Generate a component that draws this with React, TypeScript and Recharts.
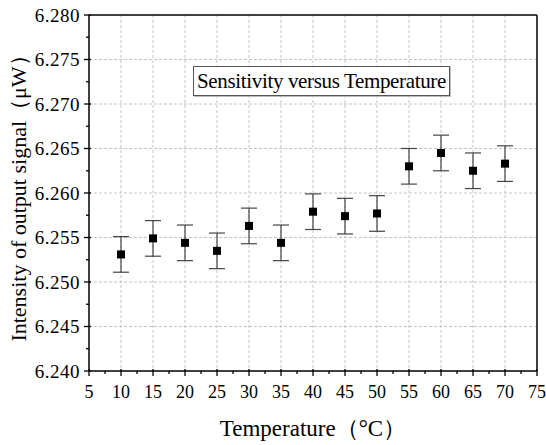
import React from "react";
import {
  ScatterChart,
  Scatter,
  XAxis,
  YAxis,
  CartesianGrid,
  ErrorBar,
  ReferenceLine,
} from "recharts";

const temperatures = [10, 15, 20, 25, 30, 35, 40, 45, 50, 55, 60, 65, 70];
const intensity = [
  6.2531, 6.2549, 6.2544, 6.2535, 6.2563, 6.2544, 6.2579, 6.2574, 6.2577,
  6.263, 6.2645, 6.2625, 6.2633,
];
const errors = [
  0.002, 0.002, 0.002, 0.002, 0.002, 0.002, 0.002, 0.002, 0.002, 0.002, 0.002,
  0.002, 0.002,
];

const xMajor = [5, 10, 15, 20, 25, 30, 35, 40, 45, 50, 55, 60, 65, 70, 75];
const xMinor = [7.5, 12.5, 17.5, 22.5, 27.5, 32.5, 37.5, 42.5, 47.5, 52.5, 57.5, 62.5, 67.5, 72.5];
const yMajor = [6.24, 6.245, 6.25, 6.255, 6.26, 6.265, 6.27, 6.275, 6.28];
const yMinor = [6.2425, 6.2475, 6.2525, 6.2575, 6.2625, 6.2675, 6.2725, 6.2775];

const data = temperatures.map((t, i) => ({
  temp: t,
  value: intensity[i],
  err: errors[i],
}));

const FONT = "'Liberation Serif', 'Times New Roman', serif";
const isMajorX = (v: number) => xMajor.includes(v);
const isMajorY = (v: number) => yMajor.some((m) => Math.abs(m - v) < 1e-6);

function XTick(props: any) {
  const { x, y, payload } = props;
  const major = isMajorX(payload.value);
  return (
    <g>
      <line
        x1={x}
        y1={major ? y - 2 : y}
        x2={x}
        y2={y + (major ? 5 : 3)}
        stroke="#000"
        strokeWidth={1.3}
      />
      {major && (
        <text x={x} y={y + 27} textAnchor="middle" fontFamily={FONT} fontSize={18} fill="#000">
          {payload.value}
        </text>
      )}
    </g>
  );
}

function YTick(props: any) {
  const { x, y, payload } = props;
  const major = isMajorY(payload.value);
  return (
    <g>
      <line
        x1={major ? x + 2 : x}
        y1={y}
        x2={x - (major ? 5 : 3)}
        y2={y}
        stroke="#000"
        strokeWidth={1.3}
      />
      {major && (
        <text
          x={x - 9}
          y={y + 6.5}
          textAnchor="end"
          fontFamily={FONT}
          fontSize={19}
          letterSpacing={0.5}
          fill="#000"
        >
          {payload.value.toFixed(3)}
        </text>
      )}
    </g>
  );
}

export default function App() {
  return (
    <div style={{ position: "absolute", left: 0, top: 0, width: 546, height: 445, background: "#fff" }}>
      <ScatterChart width={546} height={445} margin={{ top: 15, right: 9, bottom: 0, left: 0 }}>
        <CartesianGrid
          stroke="#c4c4c4"
          strokeDasharray="3 2"
          horizontalValues={yMajor.slice(1, -1)}
          verticalValues={xMajor.slice(1, -1)}
        />
        <XAxis
          type="number"
          dataKey="temp"
          domain={[5, 75]}
          ticks={[...xMajor, ...xMinor].sort((a, b) => a - b)}
          interval={0}
          height={74}
          tickSize={0}
          tickMargin={0}
          tickLine={false}
          axisLine={{ stroke: "#000", strokeWidth: 1.5 }}
          tick={(p: any) => <XTick {...p} />}
          label={{
            value: "Temperature（°C）",
            position: "insideBottom",
            offset: 9,
            style: { fontFamily: FONT, fontSize: 23, fill: "#000" },
          }}
        />
        <YAxis
          type="number"
          dataKey="value"
          domain={[6.24, 6.28]}
          ticks={[...yMajor, ...yMinor].sort((a, b) => a - b)}
          interval={0}
          width={89}
          tickSize={0}
          tickMargin={0}
          tickLine={false}
          axisLine={{ stroke: "#000", strokeWidth: 1.5 }}
          tick={(p: any) => <YTick {...p} />}
          label={{
            value: "Intensity of output signal（μW）",
            angle: -90,
            position: "insideLeft",
            offset: 18,
            style: { fontFamily: FONT, fontSize: 22, fill: "#000", textAnchor: "middle" },
          }}
        />
        <ReferenceLine y={6.28} stroke="#000" strokeWidth={1.5} />
        <ReferenceLine x={75} stroke="#000" strokeWidth={1.5} />
        <Scatter data={data} fill="#000" shape="square" isAnimationActive={false}>
          <ErrorBar dataKey="err" direction="y" width={8} stroke="#444" strokeWidth={1.2} />
        </Scatter>
      </ScatterChart>
      <div
        style={{
          position: "absolute",
          left: 193,
          top: 66,
          width: 255,
          height: 28,
          border: "1px solid #555",
          boxShadow: "1px 1px 0 #bbb",
          fontFamily: FONT,
          fontSize: 21,
          letterSpacing: -0.35,
          lineHeight: "28px",
          textAlign: "center",
          color: "#000",
          background: "#fff",
          whiteSpace: "nowrap",
        }}
      >
        Sensitivity versus Temperature
      </div>
    </div>
  );
}
